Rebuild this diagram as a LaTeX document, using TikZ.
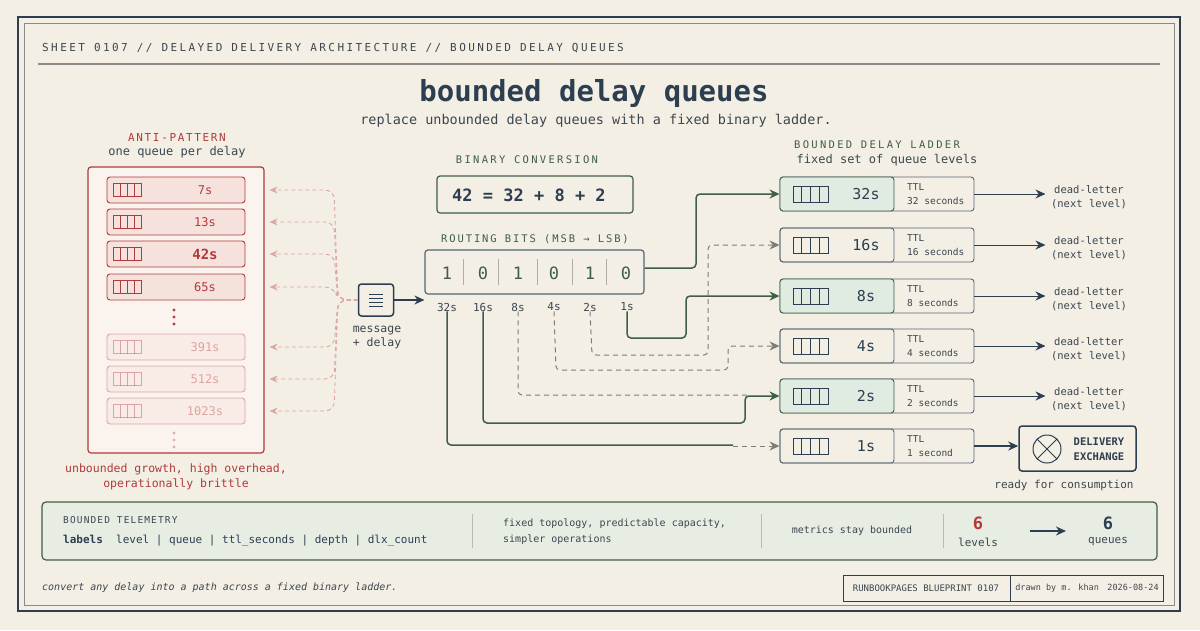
\documentclass[tikz,border=0pt]{standalone}
\usepackage{fontspec}
\setmainfont{DejaVu Sans Mono}
\usetikzlibrary{arrows.meta,calc}
\definecolor{bg}{HTML}{F3EFE4}
\definecolor{navy}{HTML}{2C3E50}
\definecolor{grn}{HTML}{3F5E48}
\definecolor{gfill}{HTML}{E0EBE2}
\definecolor{red}{HTML}{B23A3A}
\definecolor{rfill}{HTML}{F6E2DC}
\definecolor{rpale}{HTML}{FBF4EE}
\definecolor{txt}{HTML}{3C4650}
\definecolor{gry}{HTML}{8A8A86}
\newcommand\fs[1]{\fontsize{#1}{#1}\selectfont}
\newcommand\lsp[1]{\addfontfeature{LetterSpace=#1}}
\tikzset{
 t/.style={inner sep=0,text=txt,align=center},
 arow/.style={draw=red,fill=rfill,rounded corners=3,minimum width=138,minimum height=26,line width=0.9,inner sep=0},
 qi/.pic={\draw[line width=0.8] (0,-6.5) rectangle (28,6.5); \foreach \i in {7,14,21} \draw[line width=0.8] (\i,-6.5)--(\i,6.5);},
 qj/.pic={\draw[line width=0.8] (0,-8) rectangle (35,8); \foreach \i in {8.75,17.5,26.25} \draw[line width=0.8] (\i,-8)--(\i,8);},
 lrow/.style={draw=navy!80,fill=bg,rounded corners=3,minimum width=194,minimum height=34,line width=0.9,inner sep=0},
 lleft/.style={draw=navy!80,rounded corners=3,minimum width=114,minimum height=34,line width=0.9,inner sep=0},
 hl/.style={fill=gfill,draw=grn},
 arr/.style={-{Stealth[length=10,width=9]}},
 gs/.style={arr,draw=grn,line width=1.5,rounded corners=4},
 gd/.style={arr,draw=gry!90!black,line width=1,dash pattern=on 5 off 4,rounded corners=4},
 rd/.style={-{Stealth[length=8,width=7]},draw=red!45,line width=0.9,dash pattern=on 4 off 3,rounded corners=9},
}
\begin{document}
\begin{tikzpicture}[x=1pt,y=-1pt]
\useasboundingbox (0,0) rectangle (1200,630);
\fill[bg] (0,0) rectangle (1200,630);
\draw[navy,line width=2] (18,17) rectangle (1180,611);
\draw[gry,line width=1] (24,23) rectangle (1174,605);
\node[t,anchor=west] (hdr) at (42,48) {\fs{11}\lsp{22}SHEET 0107 // DELAYED DELIVERY ARCHITECTURE // BOUNDED DELAY QUEUES};
\draw[gry,line width=2] (38,64) -- (1160,64);
\node[t,text=navy] (title) at (594,93) {\fs{29}\bfseries bounded delay queues};
\node[t] (sub) at (596,121) {\fs{13.5}replace unbounded delay queues with a fixed binary ladder.};
% anti-pattern
\node[t,text=red] (apl) at (177,137) {\fs{11}\lsp{15}ANTI-PATTERN};
\node[t] (apl2) at (177,152) {\fs{12}one queue per delay};
\node[draw=red,fill=rpale,rounded corners=3,line width=1.2,minimum width=176,minimum height=286,inner sep=0] (anti) at (176,310) {};
\foreach \n/\y/\lab/\op/\fmt in {r1/190/7s/1/{},r2/222/13s/1/{},r3/254/42s/1/\bfseries\fs{14},r4/287/65s/1/{},r5/347/391s/0.4/{},r6/379/512s/0.4/{},r7/411/1023s/0.4/{}}{
 \begin{scope}[opacity=\op]
 \node[arow] (\n) at (176,\y) {};
 \pic[draw=red] at (113,\y) {qi};
 \node[t,text=red] at (205,\y) {\fs{12}\fmt \lab};
 \end{scope}
}
\foreach \y in {310,317,324} \fill[red] (174,\y) circle (1.6);
\foreach \y in {433,440,447} \fill[red!40] (174,\y) circle (1.6);
\node[t,text=red] (cap) at (176,477) {\fs{11.5}unbounded growth, high overhead,\\[3pt]\fs{11.5}operationally brittle};
% message
\node[draw=navy,line width=1.5,fill=bg,rounded corners=3,minimum width=35,minimum height=32,inner sep=0] (msg) at (376,300) {};
\foreach \dy in {-6,-2,2,6} \draw[navy,line width=1] (369,300+\dy) -- (383,300+\dy);
\foreach \n in {r1,r2,r3,r4,r5,r6,r7} \draw[rd] (msg.west) -- (338,300) -- (334,0 |- \n) -- ($(anti.east |- \n)+(5,0)$);
\node[t] (msgl) at (377,337) {\fs{11.5}message\\[2pt]\fs{11.5}+ delay};
% binary conversion
\node[t,text=grn] (bcl) at (527,160) {\fs{10.5}\lsp{22}BINARY CONVERSION};
\node[draw=grn,line width=1.2,fill=bg,rounded corners=3,minimum width=196,minimum height=37,inner sep=0] (bc) at (535,194.5) {};
\node[t,text=navy,anchor=west] at (452,195) {\fs{17}\bfseries 42 = 32 + 8 + 2};
\node[t,text=grn] (rbl) at (535,239) {\fs{10.5}\lsp{18}ROUTING BITS (MSB → LSB)};
\node[draw=navy!80,line width=1.2,fill=bg,rounded corners=3,minimum width=219,minimum height=44,inner sep=0] (bits) at (534.5,272) {};
\foreach \x/\b in {447/1,483/0,518/1,554/0,590/1,626/0} \node[t,text=grn] at (\x,273) {\fs{17}\b};
\foreach \x in {463,498,537,572,606} \draw[gry!70,line width=1] (\x,259) -- (\x,285);
\foreach \x/\l in {447/32,483/16,518/8,554/4,590/2,627/1} \node[t] (b\l) at (\x,307) {\fs{11}\l s};
\draw[arr,navy,line width=1.5] (msg.east) -- (msg.east -| bits.west);
% ladder
\node[t,text=grn] (ldl) at (877,145) {\fs{10.5}\lsp{22}BOUNDED DELAY LADDER};
\node[t] (ldl2) at (887,160) {\fs{12}fixed set of queue levels};
\foreach \n/\y/\h/\sec in {32/194/hl/32 seconds,16/245//16 seconds,8/296/hl/8 seconds,4/346//4 seconds,2/396/hl/2 seconds,1/446//1 second}{
 \node[lrow] (L\n) at (877,\y) {};
 \node[lleft,\h] at (837,\y) {};
 \pic[draw=navy] at (793,\y) {qj};
 \node[t,text=navy] at (866,\y) {\fs{15}\n s};
 \node[t,anchor=west,align=left] at (907,\y) {\fs{9.5}TTL\\[2pt]\fs{9.5}\sec};
}
\foreach \n/\y in {32/194,16/245,8/296,4/346,2/396}{
 \node[t] (dl\n) at (1089,\y+3) {\fs{10.5}dead-letter\\[2pt]\fs{10.5}(next level)};
 \draw[arr,navy,line width=1] (L\n.east) -- ($(L\n.east)+(71,0)$);
}
\node[draw=navy,line width=1.5,rounded corners=3,minimum width=117,minimum height=45,inner sep=0] (dx) at (1077.5,448.5) {};
\draw[navy,line width=1] (1047,449) circle (14);
\draw[navy,line width=1] (1037.1,439.1) -- (1056.9,458.9) (1037.1,458.9) -- (1056.9,439.1);
\node[t,text=navy] at (1099,449) {\fs{10.5}\bfseries DELIVERY\\[3pt]\fs{10.5}\bfseries EXCHANGE};
\draw[arr,navy,line width=1.5] (L1.east) -- (L1.east -| dx.west);
\node[t] (rdy) at (1064,485) {\fs{11}ready for consumption};
% routing
\draw[gs] ($(bits.east)+(0,-4)$) -- (696,268) -- (696,194) -- (L32.west);
\draw[gd] (b2.south) -- (592,355) -- (708,355) -- (708,245) -- (L16.west);
\draw[gs] (b1.south) -- (627,338) -- (686,338) -- (686,296) -- (L8.west);
\draw[gd] (b4.south) -- (556,370) -- (728,370) -- (728,346) -- (L4.west);
\draw[gd,-] (b8.south) -- (518,395) -- (748,395);
\draw[gs] (b16.south) -- (483,423) -- (745,423) -- (745,396) -- (L2.west);
\draw[grn,line width=1.5,rounded corners=4] (b32.south) -- (447,445) -- (733,445);
\draw[gd] (733,446) -- (L1.west);
% telemetry
\node[draw=grn,line width=1.2,fill=gfill!60!bg,rounded corners=4,minimum width=1115,minimum height=58,inner sep=0] (tel) at (599.5,531) {};
\node[t,anchor=west] at (63,520) {\fs{9.5}\lsp{12}BOUNDED TELEMETRY};
\node[t,anchor=west,text=navy] at (63,541) {\fs{11}\bfseries labels \mdseries\ level | queue | ttl\_seconds | depth | dlx\_count};
\foreach \x in {472,761,943} \draw[gry!60,line width=0.8] (\x,514) -- (\x,548);
\node[t,anchor=west,align=left] at (503,532) {\fs{10}fixed topology, predictable capacity,\\[4pt]\fs{10}simpler operations};
\node[t] at (852,531) {\fs{10}metrics stay bounded};
\node[t,text=red] (n6a) at (978,523) {\fs{17}\bfseries 6};
\node[t] at (978,542) {\fs{11}levels};
\node[t,text=navy] (n6b) at (1108,523) {\fs{17}\bfseries 6};
\node[t] at (1108,542) {\fs{11}queues};
\draw[arr,navy,line width=1.5] (1030,531) -- (1066,531);
% footer
\node[t,anchor=west] at (42,588) {\fs{10}\itshape convert any delay into a path across a fixed binary ladder.};
\draw[navy,line width=1] (843,575) rectangle (1163,601);
\draw[navy,line width=1] (1010,575) -- (1010,601);
\node[t] at (926,588) {\fs{9}RUNBOOKPAGES BLUEPRINT 0107};
\node[t] at (1087,588) {\fs{8.5}drawn by m. khan\quad 2026-08-24};
\end{tikzpicture}
\end{document}
